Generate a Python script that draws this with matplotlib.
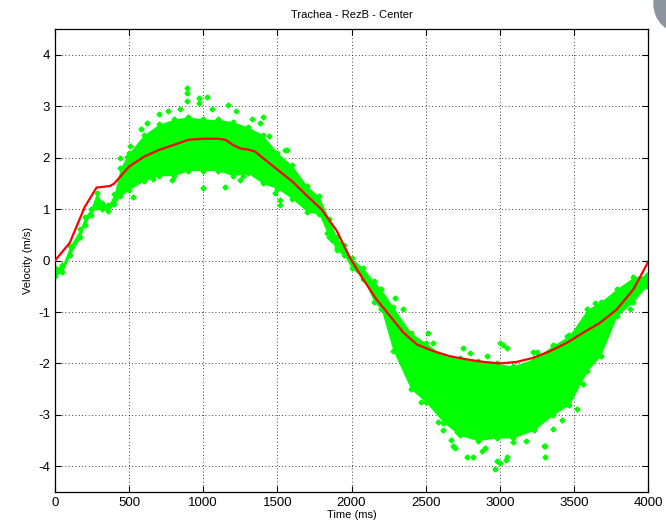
import numpy as np
import matplotlib.pyplot as plt
from matplotlib.patches import Circle

# red mean-velocity curve (time in ms, velocity in m/s)
curve_t = [0, 100, 200, 280, 370, 400, 500, 600, 700, 800, 900, 1000, 1100,
           1150, 1200, 1250, 1300, 1350, 1400, 1500, 1600, 1700, 1800, 1900,
           1990, 2080, 2170, 2260, 2350, 2440, 2552, 2664, 2777, 2890, 3002,
           3114, 3227, 3339, 3451, 3564, 3676, 3789, 3901, 3991, 4000]
curve_v = [0.0, 0.35, 1.04, 1.42, 1.45, 1.50, 1.83, 2.02, 2.15, 2.25, 2.35,
           2.37, 2.37, 2.35, 2.25, 2.18, 2.16, 2.12, 2.00, 1.77, 1.54, 1.26,
           0.99, 0.58, 0.05, -0.37, -0.76, -1.08, -1.40, -1.63, -1.76, -1.86,
           -1.92, -1.97, -2.00, -1.97, -1.89, -1.76, -1.60, -1.40, -1.21,
           -0.95, -0.56, -0.08, -0.02]

# dense part of the measured cloud: lower / upper edge
band_t = [0, 50, 100, 170, 200, 240, 280, 320, 360, 400, 440, 500, 600, 700,
          800, 900, 1000, 1100, 1200, 1300, 1400, 1500, 1600, 1700, 1780,
          1850, 1900, 1950, 2000, 2080, 2150, 2200, 2280, 2400, 2500, 2620,
          2730, 2850, 2980, 3090, 3230, 3360, 3470, 3590, 3680, 3790, 3900,
          3990, 4000]
band_lo = [-0.30, -0.22, 0.10, 0.45, 0.70, 0.88, 1.05, 1.00, 0.97, 1.10,
           1.25, 1.38, 1.55, 1.65, 1.65, 1.75, 1.75, 1.75, 1.65, 1.70, 1.50,
           1.40, 1.20, 0.95, 0.90, 0.45, 0.20, 0.10, -0.15, -0.35, -0.80,
           -0.95, -1.75, -2.50, -2.75, -3.15, -3.40, -3.50, -3.45, -3.45,
           -3.30, -3.00, -2.80, -2.15, -1.85, -1.08, -0.80, -0.50, -0.45]
band_hi = [-0.15, -0.08, 0.28, 0.62, 0.85, 1.00, 1.32, 1.12, 1.08, 1.30,
           1.80, 2.10, 2.45, 2.65, 2.75, 2.80, 2.75, 2.75, 2.70, 2.60, 2.45,
           2.10, 1.85, 1.45, 1.25, 0.80, 0.45, 0.30, 0.05, -0.15, -0.40,
           -0.55, -0.90, -1.40, -1.60, -1.85, -1.90, -1.95, -2.00, -2.05,
           -1.90, -1.65, -1.45, -0.95, -0.80, -0.55, -0.32, -0.28, -0.28]

# loose points outside the dense band
pts_t = [888, 888, 888, 970, 970, 1023, 1168, 1000, 1147, 1518, 1518, 787,
         663, 528, 506, 618, 1383, 1405, 1443, 1563, 1248, 1270, 1832, 1866,
         1900, 1551, 1484, 483, 438, 700, 760, 840, 1060, 1220, 1330, 580,
         2293, 2350, 2518, 2552, 2755, 2800, 2912, 3002, 3025, 3050, 3227,
         3250, 3362, 3451, 3643, 3643, 3723, 3878,
         2585, 2687, 2777, 2822, 2880, 2980, 3002, 3047, 3305, 3305, 3092,
         3137, 3362, 3520, 2710, 2507, 2440, 2673, 2700, 2966, 3040, 3297,
         2620, 2900, 3180, 3420, 2470, 3560]
pts_v = [3.36, 3.26, 3.10, 3.16, 3.06, 3.18, 3.03, 1.42, 1.44, 1.18, 1.08,
         1.57, 1.59, 1.24, 2.23, 2.68, 2.68, 2.80, 2.43, 2.16, 1.57, 1.65,
         0.54, 0.41, 0.25, 2.16, 1.32, 2.02, 2.00, 2.85, 2.90, 2.95, 2.95,
         2.90, 2.75, 2.55,
         -0.72, -0.95, -1.40, -1.60, -1.69, -1.79, -1.86, -1.60, -1.65,
         -1.69, -1.77, -1.77, -1.67, -1.47, -0.82, -0.95, -0.80, -0.95,
         -3.13, -3.61, -3.81, -3.81, -3.70, -3.90, -3.93, -3.82, -3.61,
         -3.81, -3.53, -3.34, -3.28, -2.89, -3.34, -2.64, -2.50, -3.48,
         -3.64, -4.06, -3.88, -3.60, -3.30, -3.65, -3.50, -3.10, -2.75,
         -2.40]

plt.rcParams['font.family'] = ['Liberation Sans', 'DejaVu Sans']
plt.rcParams['axes.unicode_minus'] = False

fig = plt.figure(figsize=(6.66, 5.31), dpi=100)
ax = fig.add_axes([0.0826, 0.0734, 0.8904, 0.8716])

green = '#00ff00'
ax.fill_between(band_t, band_lo, band_hi, color=green, lw=0, zorder=2)
# speckled edges of the band
ax.plot(band_t, band_lo, 'P', color=green, ms=3.2, zorder=2)
ax.plot(band_t, band_hi, 'P', color=green, ms=3.2, zorder=2)
ax.plot(pts_t, pts_v, 'P', color=green, ms=3.2, lw=0, zorder=2)
ax.plot(curve_t, curve_v, color='red', lw=1.6, zorder=3)

ax.set_xlim(0, 4000)
ax.set_ylim(-4.5, 4.5)
ax.set_xticks(np.arange(0, 4001, 500))
ax.set_yticks(np.arange(-4, 5, 1))
ax.grid(True, color='black', ls=(0, (1, 3)), lw=0.6)
ax.tick_params(direction='in', top=True, right=True, labelsize=9.5,
               length=4, width=0.8)
for s in ax.spines.values():
    s.set_linewidth(0.9)

ax.set_title('Trachea - RezB - Center', fontsize=8, pad=8)
ax.set_xlabel('Time (ms)', fontsize=8, labelpad=1)
ax.set_ylabel('Velocity (m/s)', fontsize=8, labelpad=4)

# grey blob in the top right corner of the screenshot
fig.patches.append(Circle((683, 531 - 4), 29, transform=None,
                          color='#8c959d', zorder=5))

fig.savefig('out.png', dpi=100)
